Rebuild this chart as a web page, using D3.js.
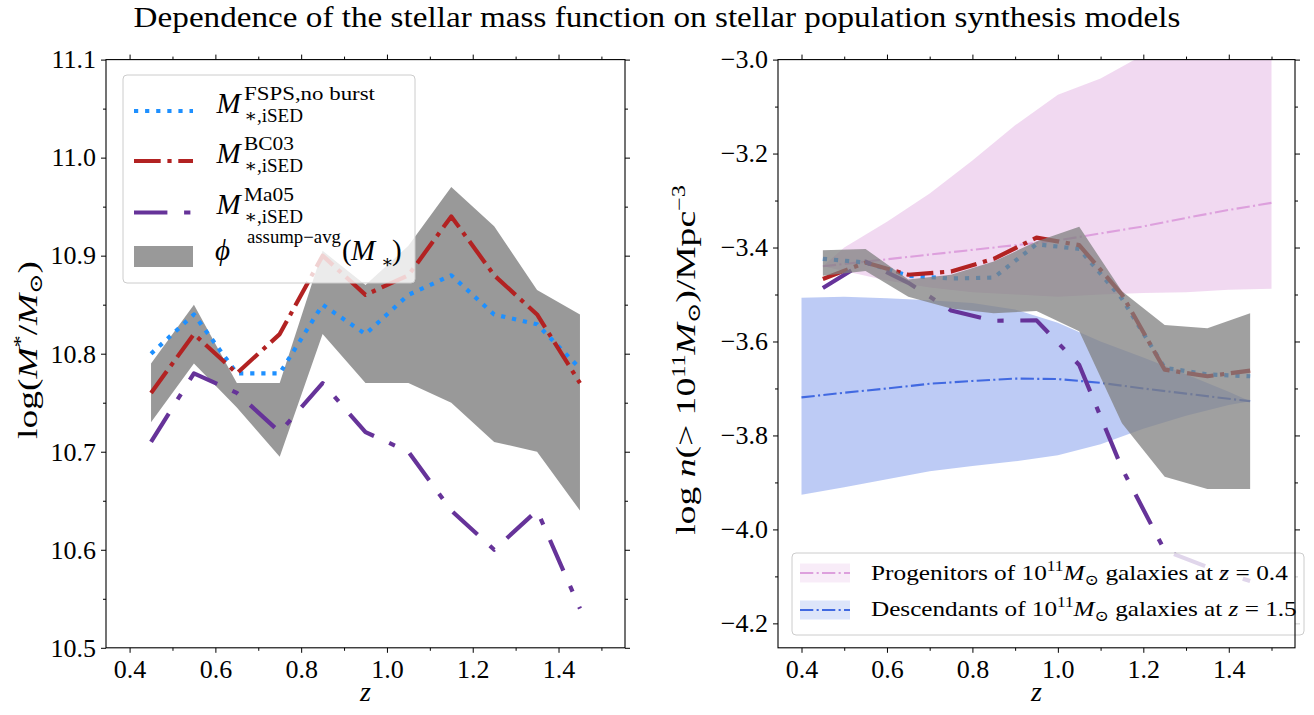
<!DOCTYPE html>
<html>
<head>
<meta charset="utf-8">
<script src="https://cdn.jsdelivr.net/npm/d3@7"></script>
<style>
  body { margin: 0; background: #fff; }
  text { font-family: "Liberation Serif", "DejaVu Serif", serif; fill: #000; }
  .tick text { font-family: "Liberation Serif", "DejaVu Serif", serif; font-size: 26px; }
</style>
</head>
<body>
<svg id="chart" width="1314" height="715"></svg>
<script>
// ---- redshift bins shared by both panels ----
const zBins = [0.45, 0.55, 0.65, 0.75, 0.85, 0.95, 1.05, 1.15, 1.25, 1.35, 1.45];

// ---- left panel: log stellar mass per redshift bin ----
const massFSPS  = [10.80, 10.84, 10.78, 10.78, 10.85, 10.82, 10.86, 10.88, 10.84, 10.83, 10.785];
const massBC03  = [10.76, 10.82, 10.78, 10.82, 10.90, 10.86, 10.88, 10.94, 10.88, 10.84, 10.77];
const massMa05  = [10.71, 10.78, 10.76, 10.72, 10.77, 10.72, 10.70, 10.64, 10.60, 10.64, 10.54];
const massAvgHi = [10.79, 10.85, 10.77, 10.77, 10.905, 10.87, 10.91, 10.97, 10.93, 10.865, 10.84];
const massAvgLo = [10.73, 10.79, 10.745, 10.695, 10.82, 10.77, 10.77, 10.75, 10.71, 10.70, 10.64];

// ---- right panel: cumulative number density above 1e11 Msun ----
const densFSPS  = [-3.424, -3.432, -3.46, -3.466, -3.464, -3.393, -3.403, -3.509, -3.656, -3.670, -3.674];
const densBC03  = [-3.467, -3.432, -3.458, -3.451, -3.424, -3.379, -3.395, -3.50, -3.66, -3.674, -3.662];
const densMa05  = [-3.486, -3.43, -3.475, -3.534, -3.556, -3.555, -3.65, -3.87, -4.045, -4.08, -4.11];
const densAvgHi = [-3.406, -3.403, -3.468, -3.458, -3.43, -3.387, -3.356, -3.493, -3.565, -3.572, -3.540];
const densAvgLo = [-3.46, -3.45, -3.505, -3.53, -3.54, -3.535, -3.578, -3.774, -3.888, -3.914, -3.914];

// progenitors of 1e11 Msun galaxies at z = 0.4
const progZ   = [0.45, 0.5, 0.6, 0.7, 0.8, 0.9, 1.0, 1.1, 1.2, 1.3, 1.4, 1.5];
const progMid = [-3.44, -3.435, -3.425, -3.415, -3.405, -3.395, -3.385, -3.37, -3.355, -3.337, -3.32, -3.305];
const progHi  = [-3.44, -3.40, -3.345, -3.285, -3.215, -3.14, -3.075, -3.04, -2.99, -2.95, -2.92, -2.89];
const progLo  = [-3.44, -3.45, -3.47, -3.485, -3.495, -3.50, -3.505, -3.50, -3.497, -3.495, -3.49, -3.488];

// descendants of 1e11 Msun galaxies at z = 1.5
const descZ   = [0.4, 0.5, 0.6, 0.7, 0.8, 0.9, 1.0, 1.1, 1.2, 1.3, 1.4, 1.45];
const descMid = [-3.719, -3.709, -3.70, -3.69, -3.684, -3.679, -3.680, -3.688, -3.70, -3.711, -3.722, -3.727];
const descHi  = [-3.507, -3.505, -3.508, -3.512, -3.518, -3.532, -3.56, -3.60, -3.634, -3.67, -3.707, -3.727];
const descLo  = [-3.926, -3.91, -3.893, -3.876, -3.865, -3.855, -3.842, -3.819, -3.786, -3.758, -3.735, -3.727];

// ---- ticks ----
const zMajor = [0.4, 0.6, 0.8, 1.0, 1.2, 1.4];
const zMinor = [0.5, 0.7, 0.9, 1.1, 1.3, 1.5];
const massMajor = [10.5, 10.6, 10.7, 10.8, 10.9, 11.0, 11.1];
const massMinor = [10.55, 10.65, 10.75, 10.85, 10.95, 11.05];
const densMajor = [-4.2, -4.0, -3.8, -3.6, -3.4, -3.2, -3.0];
const densMinor = [-4.1, -3.9, -3.7, -3.5, -3.3, -3.1];

(function () {
// ---- styling ----
const C = {
  fsps: '#1e90ff', bc03: '#b22222', ma05: '#663399',
  grey: '#808080', prog: '#dda0dd', desc: '#4169e1'
};
const LW = 4.2;
const DASH = {
  dotted: '4.2,6.9',
  dashdot: '26.7,6.7,4.2,6.7',
  longshort: '33.4,16.7,6.3,16.7',
  thin: '13.3,3.3,2.1,3.3'
};

const svg = d3.select('#chart');
svg.append('rect').attr('width', 1314).attr('height', 715).attr('fill', '#fff');

const plotTop = 59.6, plotBottom = 647.8;
const zDomain = [0.345, 1.555];

const xL = d3.scaleLinear(zDomain, [106, 625]);
const yL = d3.scaleLinear([10.5, 11.1], [plotBottom, plotTop]);
const xR = d3.scaleLinear(zDomain, [778, 1295]);
const yR = d3.scaleLinear([-4.252, -3.0], [plotBottom, plotTop]);

// horizontal stretch of a text element about a fixed x
function fitX(sel, width, ax) {
  const w = sel.node().getBBox().width;
  if (!w) return;
  const sx = width / w;
  sel.attr('transform', `translate(${ax * (1 - sx)},0) scale(${sx},1)`);
}

function piece(g, str, x, y, size, italic, width) {
  const t = g.append('text').attr('x', x).attr('y', y)
    .attr('font-size', size).attr('font-style', italic ? 'italic' : 'normal').text(str);
  if (width) fitX(t, width, x);
  return t;
}

function addClip(id, x) {
  svg.append('clipPath').attr('id', id).append('rect')
    .attr('x', x.range()[0]).attr('y', plotTop)
    .attr('width', x.range()[1] - x.range()[0]).attr('height', plotBottom - plotTop);
}

function drawAxes(x, y, yMajor, yMinor, fmtY) {
  const x0 = x.range()[0], x1 = x.range()[1];
  const g = svg.append('g');
  const style = a => a.call(s => s.select('.domain').remove())
    .call(s => s.selectAll('.tick line').attr('stroke', '#000').attr('stroke-width', 1));
  g.append('g').attr('transform', `translate(0,${plotBottom})`)
    .call(d3.axisBottom(x).tickValues(zMajor).tickSize(5).tickPadding(7).tickFormat(d3.format('.1f'))).call(style);
  g.append('g').attr('transform', `translate(0,${plotBottom})`)
    .call(d3.axisBottom(x).tickValues(zMinor).tickSize(3).tickFormat('')).call(style);
  g.append('g').attr('transform', `translate(0,${plotTop})`)
    .call(d3.axisTop(x).tickValues(zMajor).tickSize(5).tickFormat('')).call(style);
  g.append('g').attr('transform', `translate(0,${plotTop})`)
    .call(d3.axisTop(x).tickValues(zMinor).tickSize(3).tickFormat('')).call(style);
  g.append('g').attr('transform', `translate(${x0},0)`)
    .call(d3.axisLeft(y).tickValues(yMajor).tickSize(5).tickPadding(5).tickFormat(fmtY)).call(style);
  g.append('g').attr('transform', `translate(${x0},0)`)
    .call(d3.axisLeft(y).tickValues(yMinor).tickSize(3).tickFormat('')).call(style);
  g.append('g').attr('transform', `translate(${x1},0)`)
    .call(d3.axisRight(y).tickValues(yMajor).tickSize(5).tickFormat('')).call(style);
  g.append('g').attr('transform', `translate(${x1},0)`)
    .call(d3.axisRight(y).tickValues(yMinor).tickSize(3).tickFormat('')).call(style);
}

function frame(x) {
  svg.append('rect').attr('x', x.range()[0]).attr('y', plotTop)
    .attr('width', x.range()[1] - x.range()[0]).attr('height', plotBottom - plotTop)
    .attr('fill', 'none').attr('stroke', '#000').attr('stroke-width', 1.1);
}

function band(g, zs, lo, hi, x, y, fill, op) {
  const area = d3.area().x((d, i) => x(zs[i])).y0((d, i) => y(lo[i])).y1((d, i) => y(hi[i]));
  g.append('path').attr('d', area(zs)).attr('fill', fill).attr('fill-opacity', op);
}

function line(g, zs, vals, x, y, color, dash, width) {
  const ln = d3.line().x((d, i) => x(zs[i])).y((d, i) => y(vals[i]));
  g.append('path').attr('d', ln(zs)).attr('fill', 'none').attr('stroke', color)
    .attr('stroke-width', width || LW).attr('stroke-dasharray', dash)
    .attr('stroke-linejoin', 'round');
}

// ================= left panel =================
addClip('clipL', xL);
drawAxes(xL, yL, massMajor, massMinor, d3.format('.1f'));
const gL = svg.append('g').attr('clip-path', 'url(#clipL)');
band(gL, zBins, massAvgLo, massAvgHi, xL, yL, C.grey, 0.8);
line(gL, zBins, massFSPS, xL, yL, C.fsps, DASH.dotted);
line(gL, zBins, massBC03, xL, yL, C.bc03, DASH.dashdot);
line(gL, zBins, massMa05, xL, yL, C.ma05, DASH.longshort);

// legend (left)
const lgL = svg.append('g');
lgL.append('rect').attr('x', 123).attr('y', 75).attr('width', 292).attr('height', 208)
  .attr('rx', 4).attr('fill', '#fff').attr('fill-opacity', 0.8)
  .attr('stroke', '#cccccc').attr('stroke-width', 1);
const legRows = [
  { sup: 'FSPS,no burst', supW: 131, color: C.fsps, dash: DASH.dotted, y: 111, base: 113 },
  { sup: 'BC03', supW: 50, color: C.bc03, dash: DASH.dashdot, y: 161, base: 163 },
  { sup: 'Ma05', supW: 50, color: C.ma05, dash: DASH.longshort, y: 212.5, base: 214 }
];
legRows.forEach(r => {
  lgL.append('line').attr('x1', 134).attr('x2', 193).attr('y1', r.y).attr('y2', r.y)
    .attr('stroke', r.color).attr('stroke-width', LW).attr('stroke-dasharray', r.dash);
  piece(lgL, 'M', 216.5, r.base, 29, true);
  piece(lgL, r.sup, 244, r.base - 13, 18, false, r.supW);
  piece(lgL, '\u2217,iSED', 244, r.base + 9, 18, false, 59);
});
lgL.append('rect').attr('x', 134).attr('y', 246).attr('width', 59).attr('height', 21)
  .attr('fill', C.grey).attr('fill-opacity', 0.8);
piece(lgL, '\u03d5', 215, 260, 29, true);
piece(lgL, 'assump\u2212avg', 247, 243, 18, false, 94);
piece(lgL, '(', 342, 260, 29, false);
piece(lgL, 'M', 351, 260, 29, true);
piece(lgL, '\u2217', 381, 268, 18, false);
piece(lgL, ')', 392, 260, 29, false);

frame(xL);

// ================= right panel =================
addClip('clipR', xR);
drawAxes(xR, yR, densMajor, densMinor, d3.format('.1f'));
const gR = svg.append('g').attr('clip-path', 'url(#clipR)');
band(gR, progZ, progLo, progHi, xR, yR, C.prog, 0.4);
band(gR, descZ, descLo, descHi, xR, yR, C.desc, 0.35);
line(gR, progZ, progMid, xR, yR, C.prog, DASH.thin, 2.1);
line(gR, descZ, descMid, xR, yR, C.desc, DASH.thin, 2.1);
line(gR, zBins, densFSPS, xR, yR, C.fsps, DASH.dotted);
line(gR, zBins, densBC03, xR, yR, C.bc03, DASH.dashdot);
line(gR, zBins, densMa05, xR, yR, C.ma05, DASH.longshort);
band(gR, zBins, densAvgLo, densAvgHi, xR, yR, C.grey, 0.75);

// legend (right)
const lgR = svg.append('g');
lgR.append('rect').attr('x', 792).attr('y', 553).attr('width', 512).attr('height', 82)
  .attr('rx', 4).attr('fill', '#fff').attr('fill-opacity', 0.8)
  .attr('stroke', '#cccccc').attr('stroke-width', 1);
const rRows = [
  { lead: 'Progenitors of 10', zval: '0.4', color: C.prog, op: 0.4, y: 573, base: 580, w: 417 },
  { lead: 'Descendants of 10', zval: '1.5', color: C.desc, op: 0.35, y: 610, base: 616, w: 426 }
];
rRows.forEach(r => {
  lgR.append('rect').attr('x', 800).attr('y', r.y - 9.5).attr('width', 50).attr('height', 19)
    .attr('fill', r.color).attr('fill-opacity', r.op * 0.5);
  lgR.append('line').attr('x1', 800).attr('x2', 850).attr('y1', r.y).attr('y2', r.y)
    .attr('stroke', r.color).attr('stroke-width', 2.1).attr('stroke-dasharray', DASH.thin);
  const t = lgR.append('text').attr('x', 871).attr('y', r.base).attr('font-size', 22);
  t.append('tspan').text(r.lead);
  t.append('tspan').attr('dy', -9).attr('font-size', 15).text('11');
  t.append('tspan').attr('dy', 9).attr('font-style', 'italic').text('M');
  t.append('tspan').attr('dy', 5).attr('font-size', 15).text('\u2299');
  t.append('tspan').attr('dy', -5).text(' galaxies at ');
  t.append('tspan').attr('font-style', 'italic').text('z');
  t.append('tspan').text(' = ' + r.zval);
  fitX(t, r.w, 871);
});

frame(xR);

// ================= titles and axis labels =================
const title = svg.append('text').attr('x', 657).attr('y', 27).attr('text-anchor', 'middle')
  .attr('font-size', 29).text('Dependence of the stellar mass function on stellar population synthesis models');
{
  const w = title.node().getBBox().width;
  const sx = 1047 / w;
  title.attr('transform', `translate(${657 * (1 - sx)},0) scale(${sx},1)`);
}

svg.append('text').attr('x', 365.5).attr('y', 701).attr('text-anchor', 'middle')
  .attr('font-size', 28).attr('font-style', 'italic').text('z');
svg.append('text').attr('x', 1036.5).attr('y', 701).attr('text-anchor', 'middle')
  .attr('font-size', 28).attr('font-style', 'italic').text('z');

// rotated label stretched to a given length along its baseline
function yLabel(bx, cy, len, build) {
  const t = svg.append('text').attr('text-anchor', 'middle').attr('font-size', 28);
  build(t);
  const w = t.node().getBBox().width;
  t.attr('transform', `translate(${bx},${cy}) rotate(-90) scale(${len / w},1)`);
}

// left y label: log(M*/Msun)
yLabel(37, 350, 178, t => {
  t.append('tspan').text('log(');
  t.append('tspan').attr('font-style', 'italic').text('M');
  t.append('tspan').attr('dy', -10).attr('font-size', 18).text('*');
  t.append('tspan').attr('dy', 10).text('/');
  t.append('tspan').attr('font-style', 'italic').text('M');
  t.append('tspan').attr('dy', 5).attr('font-size', 18).text('\u2299');
  t.append('tspan').attr('dy', -5).text(')');
});
// right y label: log n(>1e11 Msun)/Mpc^-3
yLabel(695, 360, 350, t => {
  t.append('tspan').text('log ');
  t.append('tspan').attr('font-style', 'italic').text('n');
  t.append('tspan').text('(> 10');
  t.append('tspan').attr('dy', -10).attr('font-size', 18).text('11');
  t.append('tspan').attr('dy', 10).attr('font-style', 'italic').text('M');
  t.append('tspan').attr('dy', 5).attr('font-size', 18).text('\u2299');
  t.append('tspan').attr('dy', -5).text(')/Mpc');
  t.append('tspan').attr('dy', -10).attr('font-size', 18).text('\u22123');
});
})();
</script>
</body>
</html>
